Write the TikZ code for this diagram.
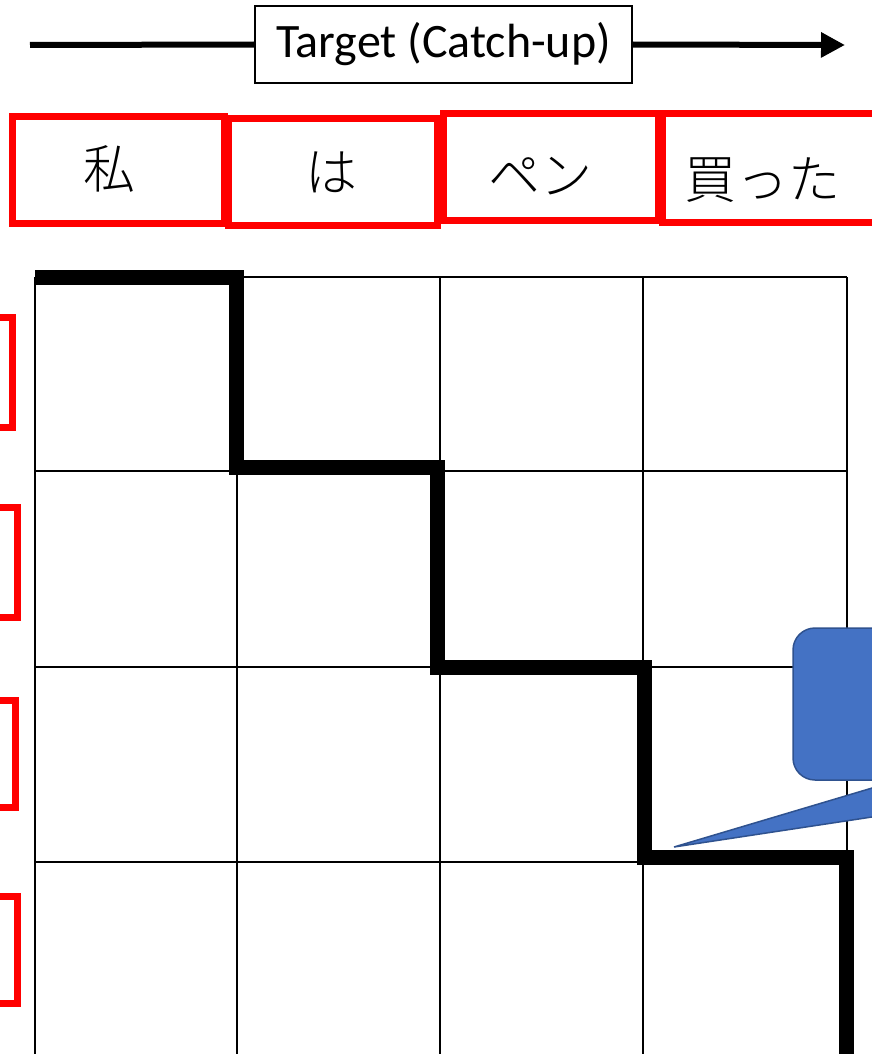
\documentclass[tikz,border=0pt]{standalone}
\usepackage{fontspec}
\setmainfont{Carlito}
\newfontfamily\jp{Noto Sans CJK JP Light}
\usetikzlibrary{arrows.meta}
\definecolor{callfill}{HTML}{4472C4}
\definecolor{calldraw}{HTML}{2F528F}
\tikzset{
  redbox/.style={draw=red, line width=7pt, inner sep=0pt},
  jptext/.style={inner sep=0pt, font=\jp\fontsize{52}{56}\selectfont},
  gridline/.style={line width=2pt, black},
  path/.style={line width=15pt, black, line join=miter},
  sidebox/.style={draw=red, line width=7pt},
}
\begin{document}
\begin{tikzpicture}[x=1pt,y=-1pt]
\useasboundingbox (0,0) rectangle (872,1054);
\clip (0,0) rectangle (872,1054);
% top arrow
\coordinate (aL) at (30,45);
\coordinate (aR) at (845,45);
\node[draw, line width=1.2pt, fill=white, minimum width=377pt, minimum height=77pt, inner sep=0pt, font=\fontsize{48}{52}\selectfont] (tgt) at (443.5,44.5) {Target (Catch-up)};
\draw[line width=6pt] (aL) -- (tgt.west);
\draw[line width=6pt, -{Triangle[length=24pt,width=24pt]}] (tgt.east) -- (aR);
% top red boxes
\node[redbox, minimum width=212pt, minimum height=106pt] (w1) at (118,170) {};
\node[redbox, minimum width=209pt, minimum height=106pt] (w2) at (332.5,172) {};
\node[redbox, minimum width=215pt, minimum height=106pt] (w3) at (550.5,167) {};
\node[redbox, minimum width=213pt, minimum height=108pt] (w4) at (768.5,168) {};
\node[jptext] (t1) at (109,169) {私};
\node[jptext] (t2) at (331,172) {は};
\node[jptext] (t3) at (540,176) {ペン};
\node[jptext] (t4) at (762,180) {買った};
% left red boxes (cropped)
\node[sidebox, minimum width=110pt, minimum height=110pt] (s1) at (-43,372) {};
\node[sidebox, minimum width=110pt, minimum height=110pt] (s2) at (-38,562) {};
\node[sidebox, minimum width=110pt, minimum height=107pt] (s3) at (-40,753.5) {};
\node[sidebox, minimum width=110pt, minimum height=107pt] (s4) at (-38,949.5) {};
% grid
\foreach \x in {35,237,440,643,847} \draw[gridline] (\x,277) -- (\x,1060);
\foreach \y in {277,471,667,862} \draw[gridline] (35,\y) -- (847,\y);
% staircase path
\coordinate (p0) at (35,277);
\coordinate (p1) at (236,277);
\coordinate (p2) at (236,467);
\coordinate (p3) at (437,467);
\coordinate (p4) at (437,667);
\coordinate (p5) at (644,667);
\coordinate (p6) at (644,857);
\coordinate (p7) at (846,857);
\coordinate (p8) at (846,1070);
\draw[path] (p0) -- (p1) -- (p2) -- (p3) -- (p4) -- (p5) -- (p6) -- (p7) -- (p8);
% callout
\node[draw=calldraw, fill=callfill, line width=1.5pt, rounded corners=22pt, minimum width=500pt, minimum height=152pt] (call) at (1043,704) {};
\coordinate (tip) at (674,847);
\coordinate (b1) at (899,780);
\coordinate (b2) at (1116,780);
\filldraw[draw=calldraw, fill=callfill, line width=1.5pt, line join=miter] (tip) -- (b1) -- (b2) -- cycle;
\fill[callfill] (880,770) rectangle (1130,781);
\end{tikzpicture}
\end{document}
